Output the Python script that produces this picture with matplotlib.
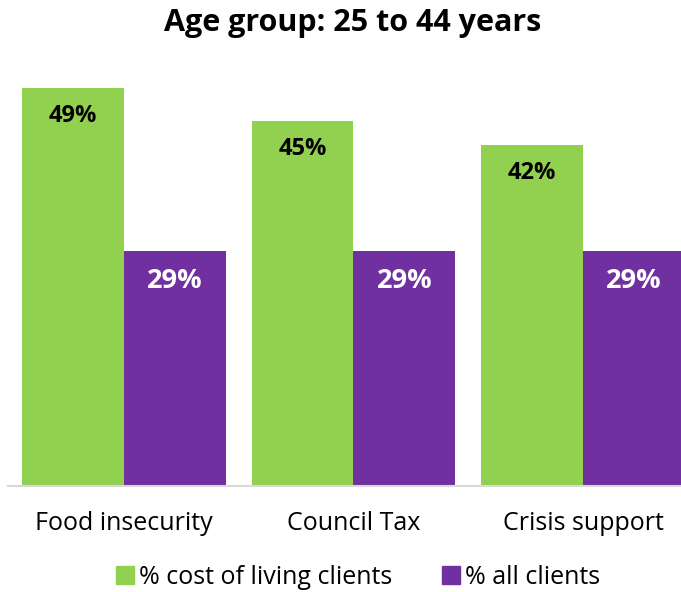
import numpy as np
import matplotlib.pyplot as plt
from matplotlib.patches import Patch

plt.rcParams['font.family'] = ['Open Sans', 'DejaVu Sans']

categories = ['Food insecurity', 'Council Tax', 'Crisis support']
cost_of_living = [49, 45, 42]
all_clients = [29, 29, 29]
series_names = ['% cost of living clients', '% all clients']

green = '#92D050'
purple = '#7030A0'

fig = plt.figure(figsize=(6.81, 5.92), dpi=100)
ax = fig.add_axes([8 / 681, 106 / 592, 1 - 8 / 681, (486 - 60) / 592])

x = np.arange(len(categories))
w = 0.444
b1 = ax.bar(x - w / 2, cost_of_living, w, color=green)
b2 = ax.bar(x + w / 2, all_clients, w, color=purple)

ax.set_xlim(-0.5054, 2.427)
ax.set_ylim(0, 52.5)

for rect, v in zip(b1, cost_of_living):
    ax.annotate(f'{v}%', (rect.get_x() + rect.get_width() / 2, v),
                xytext=(0, -28), textcoords='offset pixels',
                ha='center', va='center', fontsize=17, fontweight='bold', color='black')
for rect, v in zip(b2, all_clients):
    ax.annotate(f'{v}%', (rect.get_x() + rect.get_width() / 2, v),
                xytext=(0, -30), textcoords='offset pixels',
                ha='center', va='center', fontsize=19.5, fontweight='bold', color='white')

for s in ['top', 'right', 'left']:
    ax.spines[s].set_visible(False)
ax.spines['bottom'].set_color('#d9d9d9')
ax.spines['bottom'].set_linewidth(1.5)
ax.set_yticks([])
ax.set_xticks(x)
ax.set_xticklabels(categories, fontsize=18)
ax.tick_params(axis='x', length=0, pad=18)

fig.text(353 / 681, 1 - 23 / 592, 'Age group: 25 to 44 years', ha='center', va='center',
         fontsize=22, fontweight='bold')

handles = [Patch(color=green), Patch(color=purple)]
fig.legend(handles, series_names, loc='center', bbox_to_anchor=(358 / 681, 1 - 577 / 592),
           ncol=2, frameon=False, fontsize=18, handlelength=0.7, handleheight=0.7,
           handletextpad=0.2, columnspacing=2.0)

fig.savefig('out.png', dpi=100)
